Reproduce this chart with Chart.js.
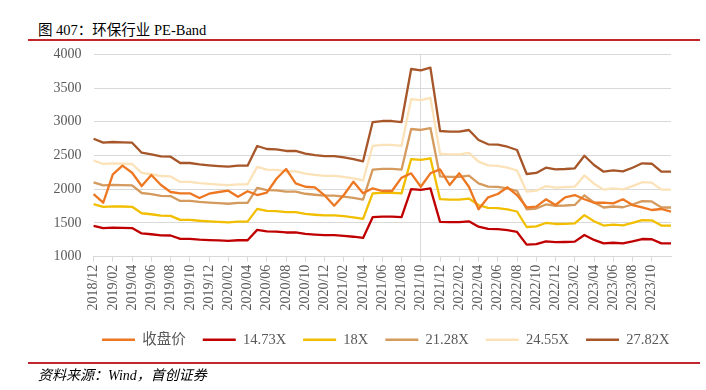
<!DOCTYPE html>
<html><head><meta charset="utf-8">
<script src="https://cdn.jsdelivr.net/npm/chart.js@4/dist/chart.umd.min.js"></script>
<style>
html,body{margin:0;padding:0;background:#fff;width:706px;height:390px;overflow:hidden;}
#wrap{position:relative;width:706px;height:390px;overflow:hidden;}
#title{position:absolute;left:38px;top:21px;font:14.5px 'Liberation Serif','Noto Sans CJK SC',serif;color:#000;white-space:nowrap;line-height:18px;}
.rule{position:absolute;left:28px;width:672px;background:#C0282D;}
#src{position:absolute;left:38px;top:367px;font:italic 14px 'Liberation Serif','Noto Sans CJK SC',serif;color:#000;white-space:nowrap;line-height:18px;}
canvas{position:absolute;left:0;top:0;}
</style></head>
<body><div id="wrap">
<div id="title">图 407：环保行业 PE-Band</div>
<div class="rule" style="top:39px;height:1.5px"></div>
<canvas id="c" width="730" height="390" style="width:730px;height:390px"></canvas>
<div class="rule" style="top:362px;height:2px"></div>
<div id="src">资料来源：Wind，首创证券</div>
</div>
<script>
const months = ['2018/12','2019/01','2019/02','2019/03','2019/04','2019/05','2019/06','2019/07','2019/08','2019/09','2019/10','2019/11',
'2019/12','2020/01','2020/02','2020/03','2020/04','2020/05','2020/06','2020/07','2020/08','2020/09','2020/10','2020/11',
'2020/12','2021/01','2021/02','2021/03','2021/04','2021/05','2021/06','2021/07','2021/08','2021/09','2021/10','2021/11',
'2021/12','2022/01','2022/02','2022/03','2022/04','2022/05','2022/06','2022/07','2022/08','2022/09','2022/10','2022/11',
'2022/12','2023/01','2023/02','2023/03','2023/04','2023/05','2023/06','2023/07','2023/08','2023/09','2023/10','2023/11','2023/12'];

const seriesNames = ['收盘价','14.73X','18X','21.28X','24.55X','27.82X'];

const closePrice = [1929,1800,2221,2349,2245,2048,2211,2063,1959,1940,1940,1870,1934,1959,1978,1889,1970,1914,1949,2155,
2300,2088,2037,2029,1910,1756,1914,2112,1940,2014,1974,1974,2171,2236,2037,2236,2295,2063,2236,2037,
1703,1880,1929,2029,1914,1732,1741,1851,1766,1880,1914,1851,1800,1800,1791,1851,1766,1732,1692,1707,1667];

const pe1473 = [1456,1424,1430,1427,1424,1345,1333,1317,1314,1265,1265,1254,1247,1241,1236,1244,1244,1398,1375,1372,
1359,1359,1338,1327,1319,1319,1309,1296,1278,1586,1594,1594,1586,2002,1992,2013,1516,1511,1511,1524,
1445,1412,1408,1393,1367,1179,1187,1228,1215,1218,1223,1322,1249,1197,1207,1199,1228,1262,1259,1197,1197];

const pe18 = [1779,1740,1747,1744,1740,1644,1629,1610,1606,1546,1546,1533,1524,1517,1510,1520,1520,1709,1680,1677,
1661,1661,1635,1622,1612,1612,1600,1584,1562,1938,1948,1948,1938,2447,2435,2459,1852,1846,1846,1862,
1766,1725,1721,1702,1670,1440,1450,1500,1485,1488,1495,1616,1526,1462,1475,1465,1500,1542,1539,1462,1462];

const pe2128 = [2103,2058,2065,2061,2058,1944,1926,1903,1899,1827,1827,1812,1801,1793,1785,1797,1797,2020,1986,1983,
1964,1964,1933,1918,1906,1906,1892,1873,1847,2292,2303,2303,2292,2893,2878,2907,2190,2182,2182,2201,
2088,2039,2035,2012,1974,1703,1714,1774,1755,1759,1767,1910,1804,1729,1744,1733,1774,1824,1819,1729,1729];

const pe2455 = [2426,2374,2383,2378,2374,2242,2222,2196,2190,2108,2108,2091,2078,2068,2060,2073,2073,2331,2291,2287,
2265,2265,2230,2212,2199,2199,2182,2160,2130,2644,2657,2657,2644,3337,3321,3354,2526,2518,2518,2540,
2409,2353,2347,2321,2278,1964,1978,2046,2025,2030,2038,2204,2082,1994,2012,1999,2046,2104,2099,1994,1994];

const pe2782 = [2749,2690,2700,2695,2690,2541,2518,2488,2482,2389,2389,2369,2355,2344,2334,2349,2349,2641,2596,2592,
2567,2567,2527,2507,2492,2492,2473,2448,2414,2996,3011,3011,2996,3782,3763,3801,2863,2853,2853,2878,
2730,2666,2660,2630,2581,2226,2241,2319,2295,2300,2310,2497,2359,2260,2280,2265,2319,2384,2378,2260,2260];

const yTicks = [1000,1500,2000,2500,3000,3500,4000];

const colors = ['#EE7722','#C00000','#F2BF00','#D49A5E','#FBE2B9','#A65628'];
const values = [closePrice, pe1473, pe18, pe2128, pe2455, pe2782];

const fontFam = "'Liberation Serif','Noto Sans CJK SC',serif";
const gray = '#595959';
const gridGray = '#D9D9D9';

const datasets = seriesNames.map((n, k) => ({
  label: n,
  data: values[k],
  borderColor: colors[k],
  backgroundColor: colors[k],
  borderWidth: 2.3,
  pointRadius: 0,
  tension: 0,
  borderJoinStyle: 'round',
  order: k === 0 ? 0 : 1
}));

new Chart(document.getElementById('c'), {
  type: 'line',
  data: { labels: months, datasets },
  options: {
    responsive: false,
    animation: false,
    devicePixelRatio: 1,
    layout: { padding: { left: 50, right: 8.6, top: 54.3, bottom: 33 } },
    plugins: {
      legend: {
        position: 'bottom',
        align: 'center',
        labels: {
          usePointStyle: true,
          pointStyle: 'line',
          pointStyleWidth: 33,
          padding: 17,
          color: gray,
          font: { family: fontFam, size: 14.5 }
        }
      },
      tooltip: { enabled: false }
    },
    scales: {
      x: {
        offset: false,
        grid: {
          drawOnChartArea: true,
          color: c => (c.index === 34 ? gridGray : 'rgba(0,0,0,0)'),
          tickColor: c => (c.index % 2 === 0 && c.index < months.length - 1 ? gridGray : 'rgba(0,0,0,0)'),
          tickLength: 5,
          lineWidth: 1
        },
        border: { color: gridGray, width: 1 },
        ticks: {
          autoSkip: false,
          maxRotation: 90,
          minRotation: 90,
          padding: 3,
          color: gray,
          font: { family: fontFam, size: 14 },
          callback: (v, i) => (i % 2 === 0 && i < months.length - 1 ? months[i] : '')
        },
        afterFit: s => { s.height = 58.8; }
      },
      y: {
        min: yTicks[0],
        max: yTicks[yTicks.length - 1],
        ticks: {
          stepSize: yTicks[1] - yTicks[0],
          padding: 12,
          color: gray,
          font: { family: fontFam, size: 14 },
          callback: v => String(v)
        },
        grid: { color: gridGray, drawTicks: false, lineWidth: 1 },
        border: { display: false },
        afterFit: s => { s.width = 43.6; }
      },
      y2: {
        position: 'right',
        display: true,
        min: yTicks[0],
        max: yTicks[yTicks.length - 1],
        grid: { display: false, drawTicks: false },
        border: { display: false },
        ticks: { display: false },
        afterFit: s => { s.width = 50.4; }
      }
    }
  }
});
</script>
</body></html>
